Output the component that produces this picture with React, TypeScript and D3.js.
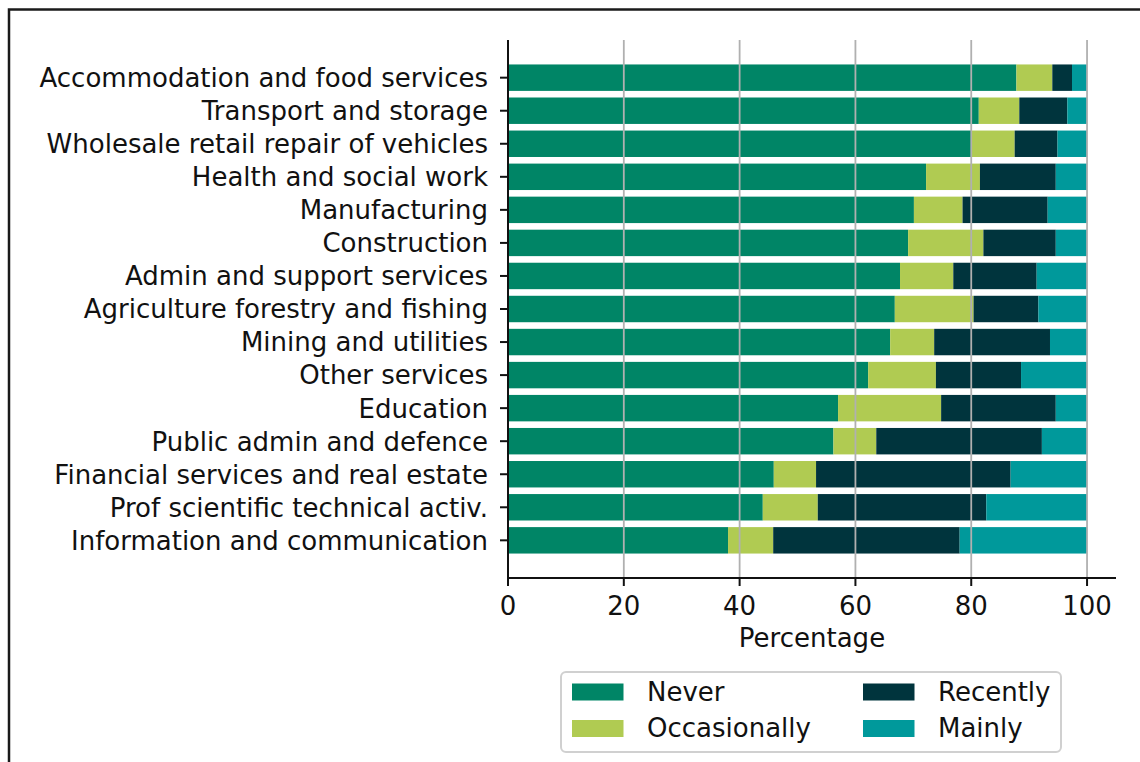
import React from "react";
import * as d3 from "d3";

const categories = [
  "Accommodation and food services",
  "Transport and storage",
  "Wholesale retail repair of vehicles",
  "Health and social work",
  "Manufacturing",
  "Construction",
  "Admin and support services",
  "Agriculture forestry and fishing",
  "Mining and utilities",
  "Other services",
  "Education",
  "Public admin and defence",
  "Financial services and real estate",
  "Prof scientific technical activ.",
  "Information and communication",
];

const seriesNames = ["Never", "Occasionally", "Recently", "Mainly"];
const seriesColors = ["#008566", "#b0cb52", "#00343d", "#00999b"];

const never = [87.8, 81.3, 80.1, 72.2, 70.1, 69.1, 67.7, 66.8, 66.0, 62.2, 57.0, 56.2, 45.9, 44.0, 38.0];
const occasionally = [6.2, 7.0, 7.4, 9.3, 8.4, 13.0, 9.2, 13.6, 7.6, 11.7, 17.8, 7.4, 7.3, 9.5, 7.8];
const recently = [3.4, 8.3, 7.4, 13.1, 14.7, 12.5, 14.4, 11.2, 20.0, 14.7, 19.8, 28.6, 33.6, 29.1, 32.2];
const mainly = [2.6, 3.4, 5.1, 5.4, 6.8, 5.4, 8.7, 8.4, 6.4, 11.4, 5.4, 7.8, 13.2, 17.4, 22.0];

const xTicks = [0, 20, 40, 60, 80, 100];
const xLabel = "Percentage";

export default function App() {
  const font = "DejaVu Sans, sans-serif";
  const fs = 26;
  const left = 508;
  const top = 40;
  const bottom = 578;
  const x = d3.scaleLinear().domain([0, 105]).range([left, 1116]);
  const n = categories.length;
  const y = d3.scaleLinear().domain([-1.14, n - 1 + 1.14]).range([top, bottom]);
  const barH = y(0.8) - y(0);

  const rows = categories.map((c, i) => ({
    cat: c,
    Never: never[i],
    Occasionally: occasionally[i],
    Recently: recently[i],
    Mainly: mainly[i],
  }));
  const stacked = d3.stack<any>().keys(seriesNames)(rows);

  const legendCols = [
    [0, 1],
    [2, 3],
  ];

  return (
    <svg
      width={1140}
      height={762}
      style={{ position: "absolute", left: 0, top: 0, background: "#fff" }}
      fontFamily={font}
    >
      <rect x={0} y={0} width={1140} height={762} fill="#fff" />
      <rect x={9} y={9.5} width={1200} height={800} fill="none" stroke="#1a1a1a" strokeWidth={2.5} />

      {stacked.map((s, si) => (
        <g key={s.key} fill={seriesColors[si]}>
          {s.map((d, i) => (
            <rect
              key={i}
              x={x(d[0])}
              y={y(i) - barH / 2}
              width={x(d[1]) - x(d[0])}
              height={barH}
            />
          ))}
        </g>
      ))}

      {xTicks
        .filter((t) => t > 0)
        .map((t) => (
          <line key={t} x1={x(t)} x2={x(t)} y1={top} y2={bottom} stroke="#b0b0b0" strokeWidth={1.8} />
        ))}

      <line x1={left} x2={left} y1={top} y2={bottom + 1} stroke="#111" strokeWidth={2} />
      <line x1={left - 1} x2={1116} y1={bottom} y2={bottom} stroke="#111" strokeWidth={2} />

      {categories.map((c, i) => (
        <g key={c}>
          <line x1={left - 8} x2={left} y1={y(i)} y2={y(i)} stroke="#111" strokeWidth={2} />
          <text x={left - 20} y={y(i)} dy="0.36em" textAnchor="end" fontSize={fs} fill="#111">
            {c}
          </text>
        </g>
      ))}

      {xTicks.map((t) => (
        <g key={t}>
          <line x1={x(t)} x2={x(t)} y1={bottom} y2={bottom + 8} stroke="#111" strokeWidth={2} />
          <text x={x(t)} y={615} textAnchor="middle" fontSize={fs} fill="#111">
            {t}
          </text>
        </g>
      ))}
      <text x={(left + 1116) / 2} y={647} textAnchor="middle" fontSize={fs} fill="#111">
        {xLabel}
      </text>

      <rect x={561} y={672} width={500} height={80} rx={5} fill="#fff" stroke="#d0d0d0" strokeWidth={2} />
      {legendCols.map((col, ci) =>
        col.map((si, ri) => (
          <g key={si}>
            <rect
              x={572 + ci * 291}
              y={683.5 + ri * 36.5}
              width={51.5}
              height={17}
              fill={seriesColors[si]}
            />
            <text x={647 + ci * 291} y={700.5 + ri * 36.5} fontSize={fs} fill="#111">
              {seriesNames[si]}
            </text>
          </g>
        ))
      )}
    </svg>
  );
}
